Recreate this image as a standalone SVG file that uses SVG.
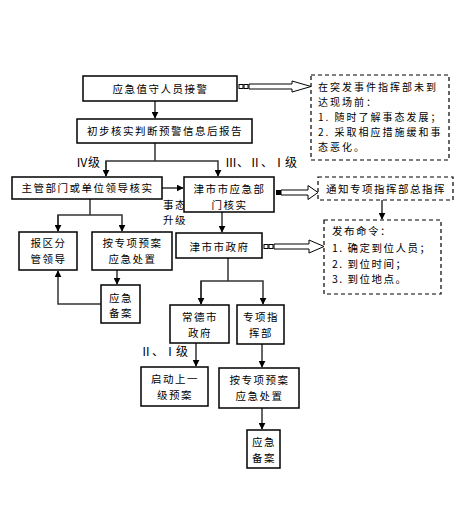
<svg xmlns="http://www.w3.org/2000/svg" width="465" height="530" viewBox="0 0 465 530">
<style>
.box{fill:#fff;stroke:#000;stroke-width:1.5}
.dbox{fill:#fff;stroke:#000;stroke-width:1.2;stroke-dasharray:4 3}
.t{font-family:"Noto Sans CJK SC","Noto Sans CJK JP",sans-serif;font-size:10.5px;fill:#000;letter-spacing:1.5px}
.s{font-size:10px;letter-spacing:2px}
.c{text-anchor:middle}
.lv{font-family:"Liberation Serif","Noto Sans CJK SC",serif;font-size:12px;fill:#000}
.ln{fill:none;stroke:#333;stroke-width:1.5}
.ha{fill:#fff;stroke:#000;stroke-width:1}
</style>
<defs>
<marker id="ar" viewBox="0 0 10 10" refX="9" refY="5" markerWidth="7" markerHeight="7" markerUnits="userSpaceOnUse" orient="auto">
<path d="M0,0 L10,5 L0,10 z" fill="#000"/>
</marker>
</defs>

<g id="connectors">
<line class="ln" x1="155" y1="101" x2="155" y2="118" marker-end="url(#ar)"/>
<polyline class="ln" points="155,143 155,161"/>
<polyline class="ln" points="106,176 106,161 218,161 218,176" marker-end="url(#ar)"/>
<line class="ln" x1="106" y1="161" x2="106" y2="176" marker-end="url(#ar)"/>
<line class="ln" x1="162" y1="188" x2="183" y2="188" marker-end="url(#ar)"/>
<polyline class="ln" points="90,199 90,215"/>
<polyline class="ln" points="58,231 58,215 122,215 122,231" marker-end="url(#ar)"/>
<line class="ln" x1="58" y1="215" x2="58" y2="231" marker-end="url(#ar)"/>
<line class="ln" x1="117" y1="270" x2="117" y2="284" marker-end="url(#ar)"/>
<polyline class="ln" points="101,304 58,304 58,271" marker-end="url(#ar)"/>
<line class="ln" x1="222" y1="212" x2="222" y2="232" marker-end="url(#ar)"/>
<polyline class="ln" points="228,258 228,281"/>
<polyline class="ln" points="201,304 201,281 263,281 263,304" marker-end="url(#ar)"/>
<line class="ln" x1="201" y1="281" x2="201" y2="304" marker-end="url(#ar)"/>
<line class="ln" x1="196" y1="343" x2="196" y2="366" marker-end="url(#ar)"/>
<line class="ln" x1="262" y1="344" x2="262" y2="367" marker-end="url(#ar)"/>
<line class="ln" x1="262" y1="408" x2="262" y2="429" marker-end="url(#ar)"/>
<line class="ln" x1="382" y1="200" x2="382" y2="219" marker-end="url(#ar)"/>
<rect x="239" y="84.5" width="4" height="4" fill="#fff" stroke="#000" stroke-width="1"/>
<rect x="244" y="84.5" width="4" height="4" fill="#fff" stroke="#000" stroke-width="1"/>
<polygon class="ha" points="249,84 292,84 292,81 311,86.5 292,92 292,89 249,89"/>
<rect x="276" y="190" width="5" height="5" fill="#000"/>
<polygon class="ha" points="281,190 308,190 308,185.5 318,192.5 308,199.5 308,195 281,195"/>
<rect x="264" y="244.5" width="4" height="4" fill="#fff" stroke="#000" stroke-width="1"/>
<rect x="269" y="244.5" width="4" height="4" fill="#fff" stroke="#000" stroke-width="1"/>
<polygon class="ha" points="274,244 309,244 309,240 324,246.5 309,253 309,249 274,249"/>
</g>

<g id="labels">
<text class="lv" x="76" y="167">Ⅳ级</text>
<text class="lv" x="225" y="167">Ⅲ、Ⅱ、Ⅰ级</text>
<text class="t" x="163" y="209">事态</text>
<text class="t" x="163" y="224">升级</text>
<text class="lv" x="140" y="356">Ⅱ、Ⅰ级</text>
</g>

<g id="n1"><rect class="box" x="83" y="76" width="154" height="25"/><text class="t c" x="160.5" y="92.5">应急值守人员接警</text></g>
<g id="n2"><rect class="box" x="77" y="119" width="175" height="24"/><text class="t c" x="165" y="135">初步核实判断预警信息后报告</text></g>
<g id="n3"><rect class="box" x="12" y="177" width="150" height="22"/><text class="t c" x="87.5" y="192">主管部门或单位领导核实</text></g>
<g id="n4"><rect class="box" x="184" y="177" width="90" height="35"/><text class="t c" x="229.5" y="193">津市市应急部</text><text class="t c" x="229.5" y="209">门核实</text></g>
<g id="n5"><rect class="box" x="176" y="233" width="86" height="25"/><text class="t c" x="219.5" y="251">津市市政府</text></g>
<g id="n6"><rect class="box" x="170" y="305" width="59" height="38"/><text class="t c" x="200" y="321">常德市</text><text class="t c" x="200" y="337">政府</text></g>
<g id="n7"><rect class="box" x="237" y="305" width="47" height="39"/><text class="t c" x="261" y="321">专项指</text><text class="t c" x="261" y="337">挥部</text></g>
<g id="n8"><rect class="box" x="141" y="367" width="67" height="39"/><text class="t c" x="175" y="383">启动上一</text><text class="t c" x="175" y="399">级预案</text></g>
<g id="n9"><rect class="box" x="219" y="368" width="80" height="40"/><text class="t c" x="259.5" y="384">按专项预案</text><text class="t c" x="259.5" y="400">应急处置</text></g>
<g id="n10"><rect class="box" x="247" y="430" width="33" height="38"/><text class="t c" x="264" y="446">应急</text><text class="t c" x="264" y="462">备案</text></g>
<g id="n11"><rect class="box" x="19" y="232" width="58" height="38"/><text class="t c" x="48.5" y="247">报区分</text><text class="t c" x="48.5" y="263">管领导</text></g>
<g id="n12"><rect class="box" x="92" y="232" width="80" height="38"/><text class="t c" x="132.5" y="247">按专项预案</text><text class="t c" x="132.5" y="263">应急处置</text></g>
<g id="n13"><rect class="box" x="101" y="285" width="39" height="38"/><text class="t c" x="121" y="302">应急</text><text class="t c" x="121" y="317">备案</text></g>

<g id="d1"><rect class="dbox" x="311" y="75" width="138" height="85"/>
<text class="t s" x="318" y="91">在突发事件指挥部未到</text>
<text class="t s" x="318" y="106">达现场前：</text>
<text class="t s" x="318" y="121">1. 随时了解事态发展；</text>
<text class="t s" x="318" y="136">2. 采取相应措施缓和事</text>
<text class="t s" x="318" y="151">态恶化。</text>
</g>
<g id="d2"><rect class="dbox" x="318" y="177" width="135" height="23"/><text class="t c" x="386" y="193">通知专项指挥部总指挥</text></g>
<g id="d3"><rect class="dbox" x="324" y="220" width="117" height="74"/>
<text class="t" x="332" y="235">发布命令：</text>
<text class="t" x="332" y="252">1. 确定到位人员；</text>
<text class="t" x="332" y="268">2. 到位时间；</text>
<text class="t" x="332" y="283">3. 到位地点。</text>
</g>
</svg>
